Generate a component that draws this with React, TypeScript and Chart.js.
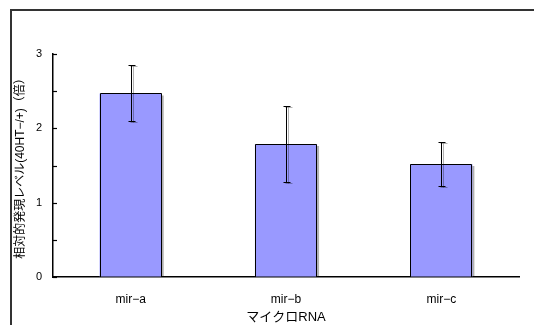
import React, { useEffect, useRef } from "react";
import { Chart, registerables } from "chart.js";

Chart.register(...registerables);

const categories = ["mir−a", "mir−b", "mir−c"];
const values = [2.47, 1.79, 1.52];
const errLow = [2.1, 1.28, 1.22];
const errHigh = [2.85, 2.3, 1.82];
const yTitle = "相対的発現レベル(40HT−/+)（倍）";
const xTitle = "マイクロRNA";

const FONT = "'Liberation Sans', 'Noto Sans CJK JP', sans-serif";

const framePlugin = {
  id: "frame",
  beforeDraw(chart: any) {
    const ctx = chart.ctx;
    ctx.save();
    ctx.fillStyle = "#ffffff";
    ctx.fillRect(0, 0, chart.width, chart.height);
    ctx.strokeStyle = "#333333";
    ctx.lineWidth = 2;
    ctx.beginPath();
    ctx.moveTo(11, chart.height);
    ctx.lineTo(11, 10);
    ctx.lineTo(chart.width, 10);
    ctx.stroke();
    ctx.restore();
  },
};

const shadowPlugin = {
  id: "barShadow",
  beforeDatasetsDraw(chart: any) {
    const ctx = chart.ctx;
    ctx.save();
    ctx.shadowColor = "rgba(0,0,0,0.3)";
    ctx.shadowOffsetX = 2;
    ctx.shadowOffsetY = 2;
    ctx.shadowBlur = 0;
  },
  afterDatasetsDraw(chart: any) {
    const ctx = chart.ctx;
    ctx.restore();
    const xs = chart.scales.x;
    const ys = chart.scales.y;
    // crisp bar outlines
    ctx.save();
    ctx.strokeStyle = "#000000";
    ctx.lineWidth = 1;
    const meta = chart.getDatasetMeta(0);
    meta.data.forEach((bar: any) => {
      const p = bar.getProps(["x", "y", "width", "base"], true);
      const l = Math.round(p.x - p.width / 2) + 0.5;
      const r = Math.round(p.x + p.width / 2) - 0.5;
      const t = Math.round(p.y) + 0.5;
      const b = Math.round(p.base);
      ctx.beginPath();
      ctx.moveTo(l, b);
      ctx.lineTo(l, t);
      ctx.lineTo(r, t);
      ctx.lineTo(r, b);
      ctx.stroke();
    });
    ctx.restore();
    // error bars
    ctx.save();
    ctx.strokeStyle = "#000000";
    ctx.lineWidth = 1;
    ctx.shadowColor = "rgba(0,0,0,0.3)";
    ctx.shadowOffsetX = 2;
    ctx.shadowOffsetY = 1;
    for (let i = 0; i < categories.length; i++) {
      const x = Math.round(xs.getPixelForValue(i)) + 0.5;
      const y1 = Math.round(ys.getPixelForValue(errHigh[i])) + 0.5;
      const y2 = Math.round(ys.getPixelForValue(errLow[i])) + 0.5;
      ctx.beginPath();
      ctx.moveTo(x, y1);
      ctx.lineTo(x, y2);
      ctx.moveTo(x - 3, y1);
      ctx.lineTo(x + 4, y1);
      ctx.moveTo(x - 3, y2);
      ctx.lineTo(x + 4, y2);
      ctx.stroke();
    }
    ctx.restore();
    // inward y tick marks
    ctx.save();
    ctx.strokeStyle = "#000000";
    ctx.lineWidth = 1.2;
    const left = chart.chartArea.left;
    ys.ticks.forEach((t: any) => {
      const y = Math.round(ys.getPixelForValue(t.value)) + 0.5;
      ctx.beginPath();
      ctx.moveTo(left, y);
      ctx.lineTo(left + 4, y);
      ctx.stroke();
    });
    ctx.restore();
  },
};

export default function App() {
  const ref = useRef<HTMLCanvasElement | null>(null);
  useEffect(() => {
    if (!ref.current) return;
    const chart = new Chart(ref.current, {
      type: "bar",
      data: {
        labels: categories,
        datasets: [
          {
            data: values,
            backgroundColor: "#9999ff",
            borderWidth: 0,
            barPercentage: 0.4,
            categoryPercentage: 1,
          },
        ],
      },
      options: {
        responsive: false,
        animation: false,
        devicePixelRatio: 1,
        layout: { padding: { top: 54, right: 15, left: 0, bottom: 0 } },
        plugins: { legend: { display: false }, tooltip: { enabled: false } },
        scales: {
          x: {
            afterFit: (s: any) => {
              s.height = 48;
            },
            grid: { display: false, drawTicks: false },
            border: { display: true, color: "#000000", width: 1.5 },
            ticks: {
              color: "#000000",
              padding: 15,
              font: { family: FONT, size: 12 },
            },
            title: {
              display: true,
              text: xTitle,
              color: "#000000",
              font: { family: FONT, size: 13 },
              padding: { top: 0, bottom: 0 },
            },
          },
          y: {
            min: 0,
            max: 3,
            afterFit: (s: any) => {
              s.width = 53;
            },
            grid: { display: true, drawOnChartArea: false, drawTicks: false },
            border: { display: true, color: "#000000", width: 1.5 },
            ticks: {
              stepSize: 0.5,
              color: "#000000",
              padding: 11,
              font: { family: FONT, size: 11 },
              callback: (v: any) => (Number.isInteger(v) ? String(v) : ""),
            },
            title: {
              display: true,
              text: yTitle,
              color: "#000000",
              font: { family: FONT, size: 12 },
              padding: { top: 13, bottom: 0 },
            },
          },
        },
      },
      plugins: [framePlugin, shadowPlugin],
    });
    return () => chart.destroy();
  }, []);
  return (
    <div style={{ position: "absolute", left: 0, top: 0, width: 534, height: 325 }}>
      <canvas ref={ref} width={534} height={325} style={{ width: 534, height: 325 }} />
    </div>
  );
}
